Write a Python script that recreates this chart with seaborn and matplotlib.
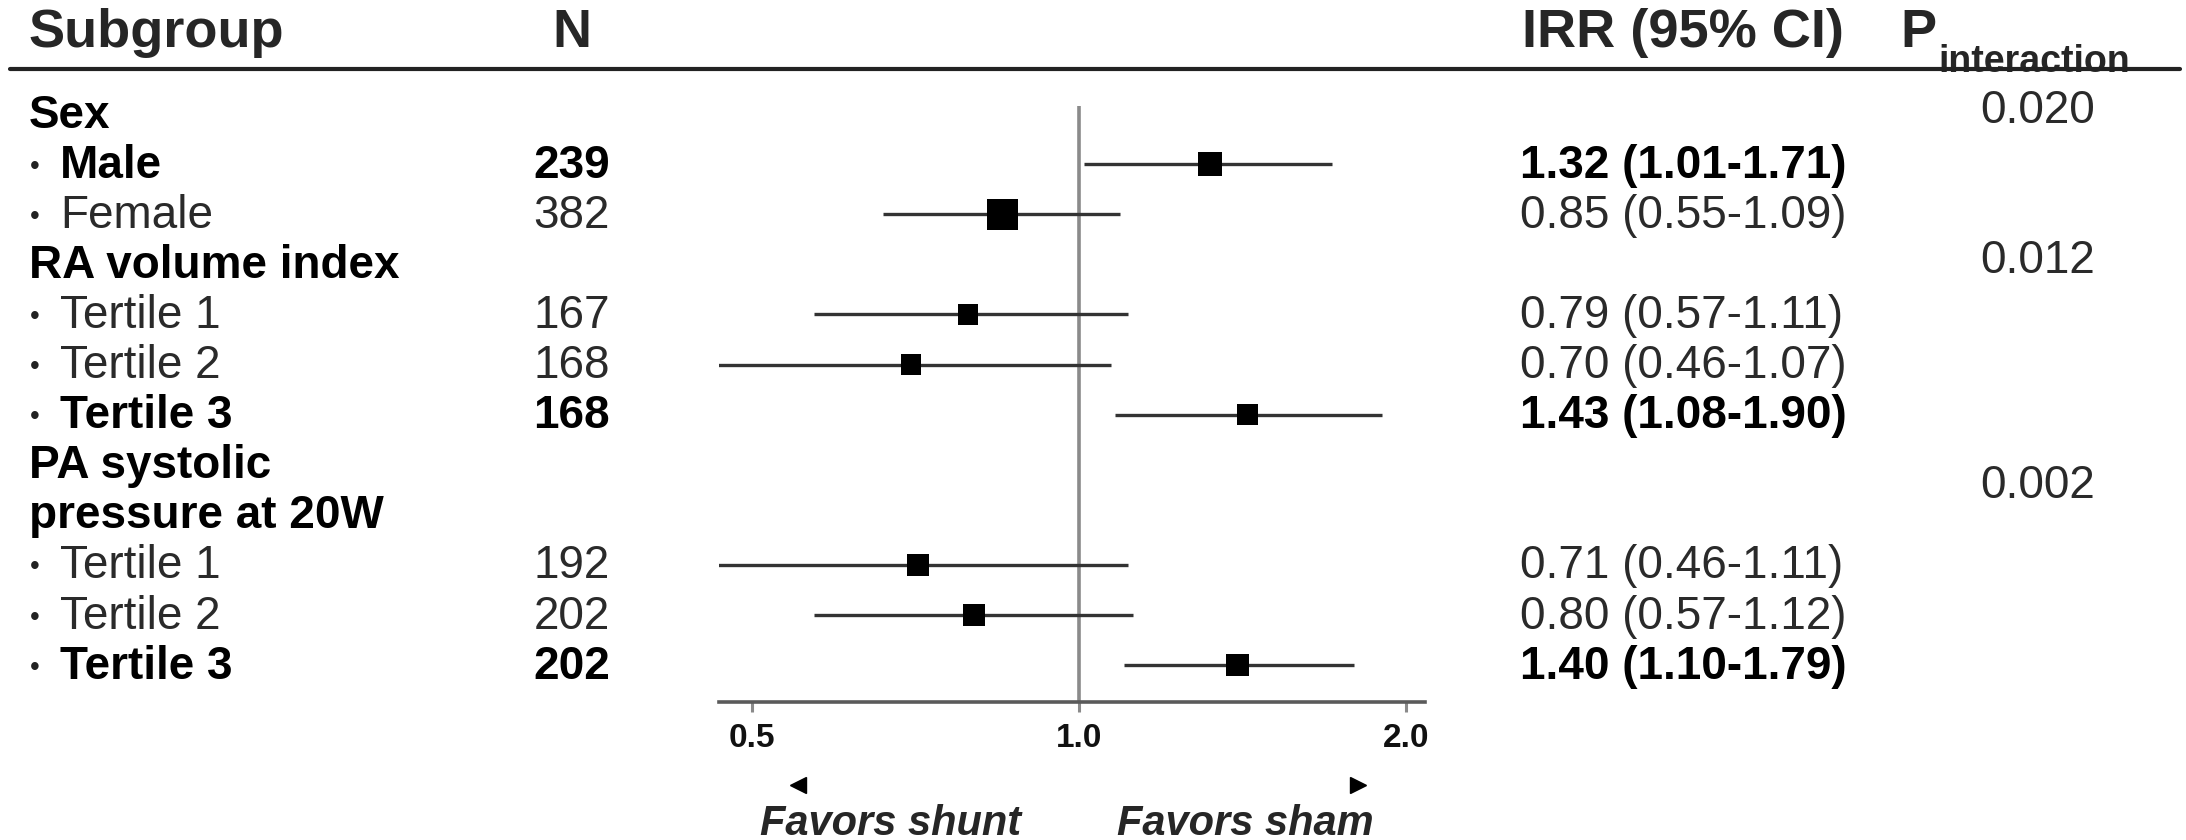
import numpy as np
import pandas as pd
import matplotlib
matplotlib.use("Agg")
import matplotlib.pyplot as plt
import seaborn as sns
from matplotlib.transforms import blended_transform_factory
from matplotlib.lines import Line2D
from matplotlib.ticker import NullLocator

# ---------------- data ----------------
group_names = ["Sex", "RA volume index", "PA systolic\npressure at 20W"]
group_sizes = [2, 3, 3]
p_interaction = ["0.020", "0.012", "0.002"]
subgroups = ["Male", "Female", "Tertile 1", "Tertile 2", "Tertile 3",
             "Tertile 1", "Tertile 2", "Tertile 3"]
n_values = [239, 382, 167, 168, 168, 192, 202, 202]
irr = [1.32, 0.85, 0.79, 0.70, 1.43, 0.71, 0.80, 1.40]
ci_low = [1.01, 0.66, 0.57, 0.46, 1.08, 0.46, 0.57, 1.10]
ci_high = [1.71, 1.09, 1.11, 1.07, 1.90, 1.11, 1.12, 1.79]
irr_labels = ["1.32 (1.01-1.71)", "0.85 (0.55-1.09)", "0.79 (0.57-1.11)",
              "0.70 (0.46-1.07)", "1.43 (1.08-1.90)", "0.71 (0.46-1.11)",
              "0.80 (0.57-1.12)", "1.40 (1.10-1.79)"]
x_ticks = [0.5, 1.0, 2.0]
x_tick_labels = ["0.5", "1.0", "2.0"]
favors_labels = ["Favors shunt", "Favors sham"]

# ---------------- row layout ----------------
header_rows, item_rows, p_rows = [], [], []
r = 0
for g, name in enumerate(group_names):
    start = r
    for line in name.split("\n"):
        header_rows.append((r, line))
        r += 1
    p_rows.append((start + r - 1) / 2)
    for _ in range(group_sizes[g]):
        item_rows.append(r)
        r += 1

df = pd.DataFrame({"row": item_rows, "irr": irr, "lo": ci_low,
                   "hi": ci_high, "n": n_values})
df["bold"] = (df["lo"] > 1) | (df["hi"] < 1)

# ---------------- style ----------------
sns.set_theme(style="white")
plt.rcParams["font.family"] = ["Liberation Sans", "DejaVu Sans"]

W, H = 2186, 840
fig = plt.figure(figsize=(W / 100, H / 100), dpi=100)
fig.patch.set_facecolor("white")

row0_px, row_px = 114.0, 50.1
ax_left, ax_right = 719, 1425
ax_top_row, ax_bot_row = -0.15, 11.737
top_px = row0_px + ax_top_row * row_px
bot_px = row0_px + ax_bot_row * row_px
ax = fig.add_axes([ax_left / W, 1 - bot_px / H, (ax_right - ax_left) / W,
                   (bot_px - top_px) / H])
ax.set_facecolor("none")

ax.set_xscale("log")
ax.axvline(1.0, color="#8a8a8a", lw=2.6, zorder=1)
ax.hlines(df["row"], df["lo"], df["hi"], color="#333333", lw=2.4, zorder=2)
side_pt = 1.6 * np.sqrt(df["n"].to_numpy()) * 72 / 100
sns.scatterplot(data=df, x="irr", y="row", marker="s", color="black",
                s=side_pt ** 2, edgecolor="none", linewidth=0, ax=ax,
                zorder=3, legend=False)

ax.set_xlim(0.466, 2.082)
ax.set_ylim(ax_bot_row, ax_top_row)
ax.set_xlabel("")
ax.set_ylabel("")
ax.set_yticks([])
for s in ["top", "left", "right"]:
    ax.spines[s].set_visible(False)
ax.spines["bottom"].set_color("#5a5a5a")
ax.spines["bottom"].set_linewidth(2.6)
ax.xaxis.set_minor_locator(NullLocator())
ax.set_xticks(x_ticks)
ax.set_xticklabels(x_tick_labels, fontweight="bold", fontsize=24, color="#111111")
ax.tick_params(axis="x", which="major", bottom=True, length=7, width=2.2,
               color="#8a8a8a", direction="out", pad=8)

# arrows and favors text
ax.plot([0.112], [-0.139], marker="<", ms=11, color="black",
        transform=ax.transAxes, clip_on=False, ls="none")
ax.plot([0.905], [-0.139], marker=">", ms=11, color="black",
        transform=ax.transAxes, clip_on=False, ls="none")
ax.text(0.2436, -0.205, favors_labels[0], transform=ax.transAxes, ha="center",
        va="center", fontsize=30, fontweight="bold", style="italic")
ax.text(0.745, -0.205, favors_labels[1], transform=ax.transAxes, ha="center",
        va="center", fontsize=30, fontweight="bold", style="italic")

# ---------------- table text ----------------
tr = blended_transform_factory(fig.transFigure, ax.transData)
FS, HFS = 33, 39
base_off = 0.27
x_label = 29 / W
x_bullet = 30 / W
x_item = 60 / W
x_n = 610 / W
x_irr = 1520 / W
x_p = 2095 / W

for row, line in header_rows:
    ax.text(x_label, row + base_off, line, transform=tr, fontsize=FS,
            fontweight="bold", va="baseline", ha="left", color="black")

for i, row in enumerate(item_rows):
    bold = bool(df["bold"].iloc[i])
    fw = "bold" if bold else "normal"
    col = "black" if bold else "#2a2a2a"
    ax.text(x_bullet, row + 0.05, "\u2022", transform=tr, fontsize=20,
            va="center", ha="left", color="#222222")
    ax.text(x_item, row + base_off, subgroups[i], transform=tr,
            fontsize=FS, fontweight=fw, va="baseline", ha="left", color=col)
    ax.text(x_n, row + base_off, str(n_values[i]), transform=tr,
            fontsize=FS, fontweight=fw, va="baseline", ha="right", color=col)
    ax.text(x_irr, row + base_off, irr_labels[i], transform=tr,
            fontsize=FS, fontweight=fw, va="baseline", ha="left", color=col)

for pr, pv in zip(p_rows, p_interaction):
    ax.text(x_p, pr + base_off - 0.1, pv, transform=tr, fontsize=FS,
            va="baseline", ha="right", color="#2a2a2a")

# header
hdr_row = -1.34
ax.text(x_label, hdr_row, "Subgroup", transform=tr, fontsize=HFS,
        fontweight="bold", va="baseline", ha="left")
ax.text(572 / W, hdr_row, "N", transform=tr, fontsize=HFS,
        fontweight="bold", va="baseline", ha="center")
ax.text(1522 / W, hdr_row, "IRR (95% CI)", transform=tr, fontsize=HFS,
        fontweight="bold", va="baseline", ha="left")
p_txt = ax.text(1900 / W, hdr_row, "P", transform=tr, fontsize=HFS,
                fontweight="bold", va="baseline", ha="left")
ax.annotate("interaction", xy=(1, 0), xycoords=p_txt, xytext=(2, -14),
            textcoords="offset pixels", fontsize=27, fontweight="bold",
            va="baseline", ha="left")

fig.add_artist(Line2D([10 / W, 2180 / W], [1 - 69 / H, 1 - 69 / H],
                      transform=fig.transFigure, color="#222222", lw=3))

fig.savefig("out.png", dpi=100, facecolor="white")
